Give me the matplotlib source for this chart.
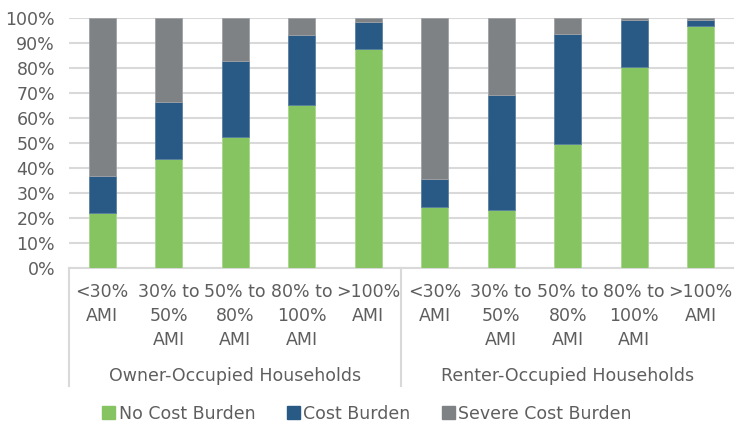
import matplotlib.pyplot as plt
import matplotlib.transforms as mtransforms
from matplotlib.patches import Patch

# housing cost burden by income band (share of households)
categories = ['<30%\nAMI', '30% to\n50%\nAMI', '50% to\n80%\nAMI', '80% to\n100%\nAMI', '>100%\nAMI',
              '<30%\nAMI', '30% to\n50%\nAMI', '50% to\n80%\nAMI', '80% to\n100%\nAMI', '>100%\nAMI']
groups = ['Owner-Occupied Households', 'Renter-Occupied Households']
no_burden = [22.0, 43.7, 52.3, 65.4, 87.5, 24.5, 23.2, 49.8, 80.4, 96.8]
burden = [15.0, 22.6, 30.5, 27.9, 11.0, 11.0, 46.0, 43.8, 18.9, 2.5]
severe = [round(100 - a - b, 1) for a, b in zip(no_burden, burden)]

GREEN = '#86C462'
BLUE = '#285A85'
GREY = '#7F8285'
TEXT = '#5E5E5E'
GRID = '#D9D9D9'

plt.rcParams['font.family'] = ['DejaVu Sans']

fig = plt.figure(figsize=(7.34, 4.23), dpi=100)
ax = fig.add_axes([0.094, 0.366, 0.906, 0.591])

x = list(range(len(categories)))
w = 0.4
bottom2 = [a + b for a, b in zip(no_burden, burden)]
ax.bar(x, no_burden, w, color=GREEN, edgecolor='#A8D68C', linewidth=0.6, zorder=3)
ax.bar(x, burden, w, bottom=no_burden, color=BLUE, edgecolor='#5A7FA0', linewidth=0.6, zorder=3)
ax.bar(x, severe, w, bottom=bottom2, color=GREY, edgecolor='#A0A3A6', linewidth=0.6, zorder=3)

ax.set_xlim(-0.5, len(categories) - 0.5)
ax.set_ylim(0, 100)
ax.set_yticks(range(0, 101, 10))
ax.set_yticklabels([f'{v}%' for v in range(0, 101, 10)])
ax.yaxis.grid(True, color=GRID, linewidth=1.5, zorder=0)
ax.tick_params(axis='y', length=0, pad=10, labelsize=12.5, labelcolor=TEXT)

ax.set_xticks(x)
ax.set_xticklabels(categories, linespacing=1.4)
ax.tick_params(axis='x', length=0, pad=11, labelsize=12.5, labelcolor=TEXT)

for side in ['top', 'right', 'left']:
    ax.spines[side].set_visible(False)
ax.spines['bottom'].set_color(GRID)
ax.spines['bottom'].set_linewidth(1.5)

# group labels and separators below the axis
trans = mtransforms.blended_transform_factory(ax.transData, ax.transAxes)
for i, g in enumerate(groups):
    ax.text(2 + 5 * i, -0.43, g, transform=trans, ha='center', va='center',
            fontsize=12.5, color=TEXT)
for sx in [-0.5, 4.5]:
    ax.plot([sx, sx], [0, -0.47], transform=trans, color=GRID, linewidth=1.5, clip_on=False)

handles = [Patch(color=GREEN), Patch(color=BLUE), Patch(color=GREY)]
labels = ['No Cost Burden', 'Cost Burden', 'Severe Cost Burden']
leg = fig.legend(handles, labels, loc='center', bbox_to_anchor=(0.5, 0.022), ncol=3, frameon=False,
                 fontsize=12.5, handlelength=0.75, handleheight=0.75, handletextpad=0.2,
                 columnspacing=1.8)
for t in leg.get_texts():
    t.set_color(TEXT)

fig.savefig('out.png', dpi=100)
